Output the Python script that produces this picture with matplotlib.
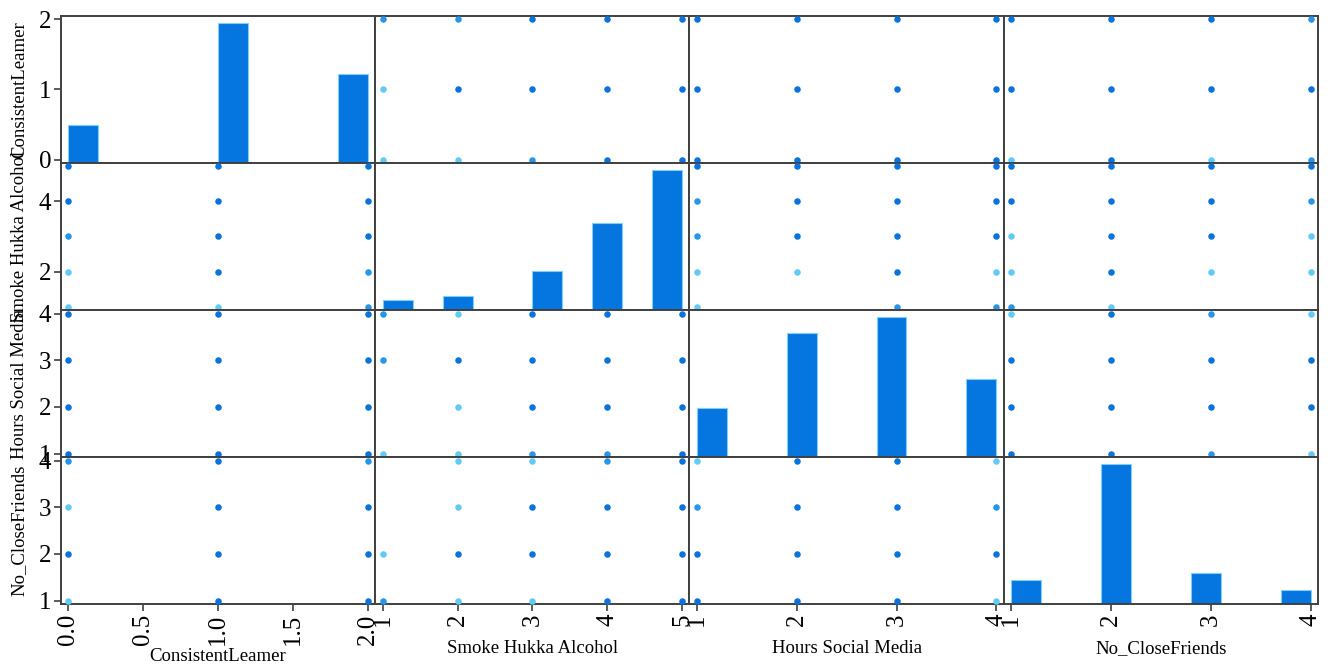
import numpy as np
import matplotlib
matplotlib.use("Agg")
import matplotlib.pyplot as plt

plt.rcParams['font.family'] = ['Liberation Serif', 'DejaVu Serif']

# variables and their discrete values
names = ["ConsistentLeamer", "Smoke Hukka Alcohol", "Hours Social Media", "No_CloseFriends"]
cl_vals = [0, 1, 2]
sha_vals = [1, 2, 3, 4, 5]
hsm_vals = [1, 2, 3, 4]
ncf_vals = [1, 2, 3, 4]

# counts per value (diagonal histograms)
cl_counts = [17, 63, 40]
sha_counts = [4, 6, 16, 36, 58]
hsm_counts = [15, 38, 43, 24]
ncf_counts = [14, 80, 18, 8]

# point density level for each pair of values (0 none, 1 few, 2 some, 3 many)
cl_sha = [[1, 1, 2, 3, 3],
          [1, 3, 3, 3, 3],
          [2, 2, 3, 3, 3]]
cl_hsm = [[3, 3, 3, 3],
          [3, 3, 3, 3],
          [3, 3, 3, 3]]
cl_ncf = [[1, 3, 1, 2],
          [3, 3, 3, 3],
          [3, 3, 3, 2]]
sha_hsm = [[1, 0, 2, 2],
           [1, 1, 3, 1],
           [2, 3, 3, 3],
           [2, 3, 3, 3],
           [3, 3, 3, 3]]
sha_ncf = [[2, 1, 0, 0],
           [1, 3, 1, 1],
           [1, 3, 3, 1],
           [3, 3, 3, 2],
           [3, 3, 3, 3]]
hsm_ncf = [[3, 3, 2, 1],
           [3, 3, 3, 3],
           [3, 3, 3, 3],
           [1, 3, 2, 1]]

vals = [cl_vals, sha_vals, hsm_vals, ncf_vals]
counts = [cl_counts, sha_counts, hsm_counts, ncf_counts]
pairs = {(0, 1): cl_sha, (0, 2): cl_hsm, (0, 3): cl_ncf,
         (1, 2): sha_hsm, (1, 3): sha_ncf, (2, 3): hsm_ncf}

level_colors = {1: "#62cbf3", 2: "#2596ea", 3: "#0a72dd"}
bar_color = "#0575e0"
spine_color = "#404040"

n = len(names)
fig, axes = plt.subplots(n, n, figsize=(13.3, 6.71), dpi=100)
fig.subplots_adjust(left=61/1330, right=1318/1330, top=1-16/671, bottom=1-604/671,
                    wspace=0, hspace=0)

bounds = []
for v in vals:
    ext = (max(v) - min(v)) * 0.05 / 2
    bounds.append((min(v) - ext, max(v) + ext))

for r in range(n):
    for c in range(n):
        ax = axes[r][c]
        if r == c:
            ax.hist(vals[r], bins=10, range=(min(vals[r]), max(vals[r])), weights=counts[r],
                    color=bar_color, edgecolor="#7fd0f7", linewidth=0.8)
        else:
            if r < c:
                m = np.array(pairs[(r, c)])
            else:
                m = np.array(pairs[(c, r)]).T
            for i, yv in enumerate(vals[r]):
                for j, xv in enumerate(vals[c]):
                    lev = m[i][j]
                    if lev > 0:
                        ax.scatter(xv, yv, s=22, color=level_colors[lev], linewidths=0, zorder=3)
            ax.set_ylim(bounds[r])
        ax.set_xlim(bounds[c])
        for sp in ax.spines.values():
            sp.set_color(spine_color)
            sp.set_linewidth(1.4)
        ax.tick_params(labelsize=18, length=5, width=1.2, color=spine_color, pad=2)
        if c != 0:
            ax.yaxis.set_visible(False)
        if r != n - 1:
            ax.xaxis.set_visible(False)
        if c == 0:
            ax.set_ylabel(names[r], fontsize=13.5)
            ax.yaxis.set_label_coords(-0.105, 0.5)
        if r == n - 1:
            ax.set_xlabel(names[c], fontsize=13.5)
            ax.xaxis.set_label_coords(0.5, -0.30 if c == 0 else -0.245)

# x ticks along bottom row
axes[3][0].set_xticks([0.0, 0.5, 1.0, 1.5, 2.0])
axes[3][0].set_xticklabels(["0.0", "0.5", "1.0", "1.5", "2.0"], rotation=90)
axes[3][1].set_xticks(sha_vals)
axes[3][1].set_xticklabels([str(v) for v in sha_vals], rotation=90)
axes[3][2].set_xticks(hsm_vals)
axes[3][2].set_xticklabels([str(v) for v in hsm_vals], rotation=90)
axes[3][3].set_xticks(ncf_vals)
axes[3][3].set_xticklabels([str(v) for v in ncf_vals], rotation=90)

# y ticks along left column
axes[1][0].set_yticks([2, 4])
axes[2][0].set_yticks(hsm_vals)
axes[3][0].set_yticks(ncf_vals)

# top-left histogram: relabel its y axis with the variable's scale
lo, hi = bounds[0]
lim0 = axes[0][0].get_ylim()
locs = np.array(cl_vals, dtype=float)
adj = (locs - lo) / (hi - lo) * (lim0[1] - lim0[0]) + lim0[0]
axes[0][0].set_yticks(adj)
axes[0][0].set_yticklabels([str(v) for v in cl_vals])

fig.savefig("out.png", dpi=100)
